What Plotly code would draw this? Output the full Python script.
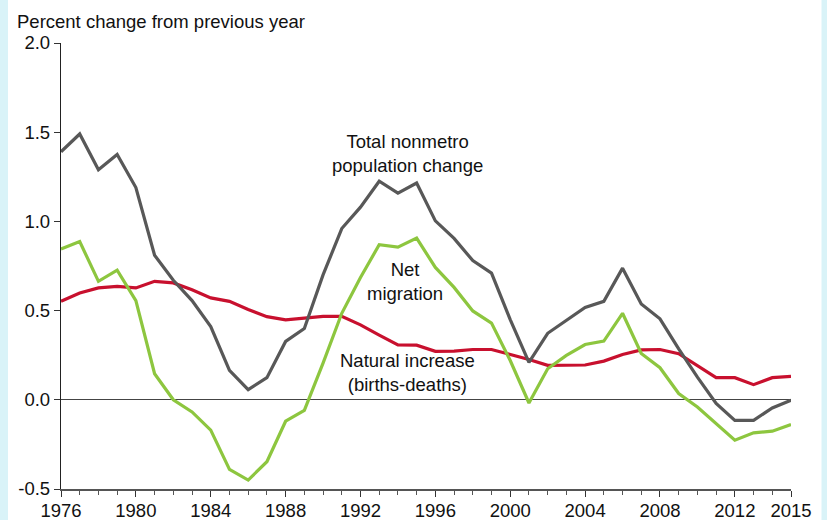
import plotly.graph_objects as go

years = list(range(1976, 2016))

total_change = [1.39, 1.49, 1.29, 1.375, 1.19, 0.81, 0.67, 0.556, 0.41, 0.165,
                0.057, 0.124, 0.327, 0.40, 0.70, 0.96, 1.08, 1.225, 1.158, 1.215,
                1.003, 0.905, 0.78, 0.71, 0.45, 0.21, 0.373, 0.444, 0.518, 0.552,
                0.738, 0.537, 0.454, 0.286, 0.127, -0.02, -0.115, -0.115, -0.046, -0.003]

net_migration = [0.845, 0.887, 0.664, 0.727, 0.556, 0.146, 0.0, -0.068, -0.17, -0.39,
                 -0.45, -0.347, -0.12, -0.059, 0.206, 0.485, 0.686, 0.869, 0.856, 0.906,
                 0.742, 0.63, 0.498, 0.43, 0.22, -0.018, 0.174, 0.249, 0.31, 0.329,
                 0.485, 0.26, 0.18, 0.035, -0.04, -0.133, -0.226, -0.185, -0.176, -0.139]

natural_increase = [0.552, 0.599, 0.627, 0.636, 0.627, 0.664, 0.655, 0.617, 0.571, 0.552,
                    0.506, 0.466, 0.448, 0.459, 0.468, 0.468, 0.42, 0.363, 0.308, 0.306,
                    0.272, 0.273, 0.282, 0.282, 0.256, 0.226, 0.193, 0.193, 0.195, 0.217,
                    0.254, 0.28, 0.282, 0.258, 0.193, 0.124, 0.124, 0.085, 0.124, 0.131]

x_tick_vals = [1976, 1980, 1984, 1988, 1992, 1996, 2000, 2004, 2008, 2012, 2015]
x_tick_text = [str(v) for v in x_tick_vals]
y_tick_vals = [-0.5, 0.0, 0.5, 1.0, 1.5, 2.0]
y_tick_text = ["-0.5", "0.0", "0.5", "1.0", "1.5", "2.0"]

GRAY = "#585858"
GREEN = "#8dc63f"
RED = "#c8102e"
FONT = "Liberation Sans, Arial, sans-serif"
TXT = "#111111"
FS = 18.5

fig = go.Figure()
fig.add_trace(go.Scatter(x=years, y=natural_increase, mode="lines",
                         line=dict(color=RED, width=3.2), hoverinfo="skip"))
fig.add_trace(go.Scatter(x=years, y=net_migration, mode="lines",
                         line=dict(color=GREEN, width=3.2), hoverinfo="skip"))
fig.add_trace(go.Scatter(x=years, y=total_change, mode="lines",
                         line=dict(color=GRAY, width=3.2), hoverinfo="skip"))

L, R, T, B = 61, 36, 43, 31
W, H = 827, 520
pw = W - L - R
ph = H - T - B

fig.update_layout(
    width=W, height=H,
    margin=dict(l=L, r=R, t=T, b=B, pad=0, autoexpand=False),
    paper_bgcolor="#d9f3f8",
    plot_bgcolor="white",
    showlegend=False,
    font=dict(family=FONT, size=FS, color=TXT),
    xaxis=dict(range=[1976, 2015], tickvals=x_tick_vals, ticktext=x_tick_text,
               ticks="outside", ticklen=6, tickwidth=1.2, tickcolor="#333",
               showline=True, linecolor="#555", linewidth=1.5,
               showgrid=False, zeroline=False, automargin=False,
               ticklabelstandoff=-2,
               tickfont=dict(size=FS, family=FONT, color=TXT),
               minor=dict(dtick=1, tick0=1976, ticks="outside", ticklen=4,
                          tickwidth=1, tickcolor="#555", showgrid=False)),
    yaxis=dict(range=[-0.5, 2.0], tickvals=y_tick_vals, ticktext=y_tick_text,
               ticks="outside", ticklen=6, tickwidth=1.2, tickcolor="#333",
               showline=True, linecolor="#222", linewidth=1.3,
               showgrid=False, zeroline=True, zerolinecolor="#444", zerolinewidth=1.2,
               automargin=False,
               tickfont=dict(size=FS, family=FONT, color=TXT)),
)

# white panel with light cyan strips on the sides
fig.add_shape(type="rect", xref="paper", yref="paper",
              x0=(8 - L) / pw, x1=(821.5 - L) / pw,
              y0=-(B + 5) / ph, y1=1 + (T + 5) / ph,
              fillcolor="white", line=dict(width=0), layer="below")

fig.add_annotation(xref="paper", yref="paper", x=(15 - L) / pw, y=1 + (T - 22) / ph,
                   xanchor="left", yanchor="middle", showarrow=False,
                   text="Percent change from previous year",
                   font=dict(size=FS, family=FONT, color=TXT))

fig.add_annotation(x=1994.5, y=1.383, xanchor="center", yanchor="middle", showarrow=False,
                   text="Total nonmetro<br>population change",
                   font=dict(size=FS, family=FONT, color=TXT))
fig.add_annotation(x=1994.37, y=0.662, xanchor="center", yanchor="middle", showarrow=False,
                   text="Net<br>migration",
                   font=dict(size=FS, family=FONT, color=TXT))
fig.add_annotation(x=1994.53, y=0.155, xanchor="center", yanchor="middle", showarrow=False,
                   text="Natural increase<br>(births-deaths)",
                   font=dict(size=FS, family=FONT, color=TXT))

fig.write_html("out.html",
               config={"displayModeBar": False},
               post_script="document.body.style.margin='0';document.body.style.overflow='hidden';")
